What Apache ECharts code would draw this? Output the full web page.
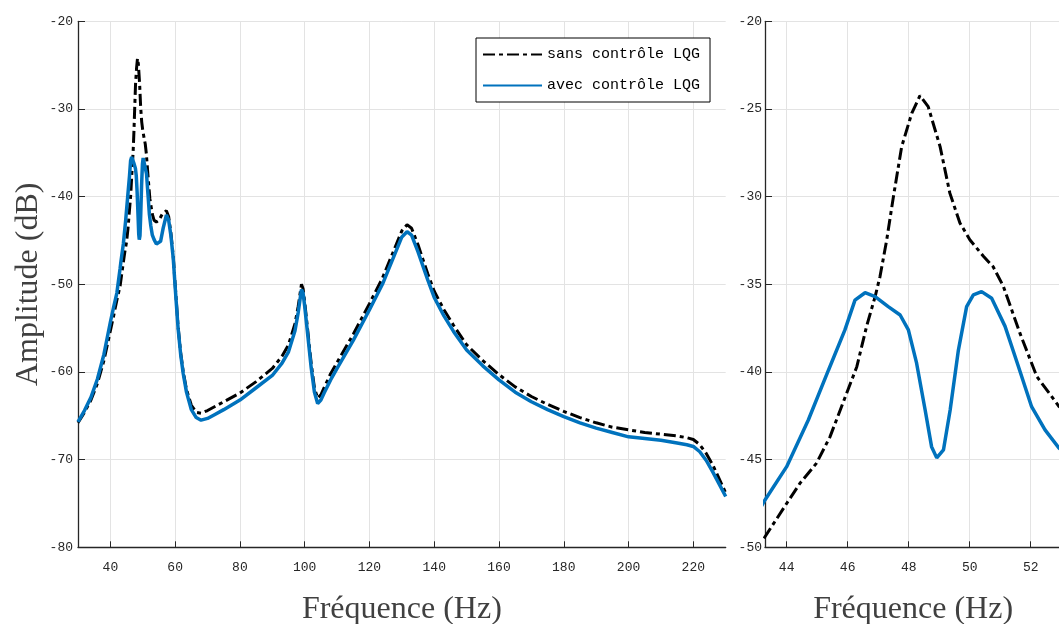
<!DOCTYPE html>
<html><head><meta charset="utf-8">
<script src="https://cdn.jsdelivr.net/npm/echarts@6/dist/echarts.min.js"></script>
<style>html,body{margin:0;padding:0;background:#fff}#c{width:1059px;height:624px}</style>
</head><body><div id="c"></div>
<script>
// ---- data ----
const freqSans = [30,32,34,36,38,40,41,42,43,43.29,44,44.44,44.98,45.42,45.97,46.3,46.62,46.9,47.06,47.28,47.5,47.77,48.1,48.37,48.64,49.03,49.35,49.68,50.01,50.45,50.77,51.1,51.65,52.2,52.93,53.5,54.2,55,56,57.3,58,58.7,59.4,60,60.9,61.7,62.5,63.5,65,66.5,68,70,72,75,80,85,90,93,95,97,98,99,99.5,100,101,102,103,104,105,106,108,110,115,120,124,127,130,131.6,133,135,138,140,143,146,150,155,160,165,170,175,180,185,190,195,200,205,210,215,218,220,222,224,226,228,230];
const sansLQG = [-65.8,-64.6,-63.2,-61.3,-58.7,-55.3,-53.6,-51.8,-50.2,-49.4,-47.5,-46.34,-45.2,-43.7,-41.2,-39.7,-37.4,-35.7,-34.56,-32.47,-30.0,-27.15,-25.25,-24.24,-24.87,-27.15,-29.8,-31.5,-32.47,-33.4,-34.0,-35.1,-37.8,-40.26,-41.97,-42.7,-42.9,-42.7,-42.0,-41.6,-42.3,-44.2,-46.8,-50,-54.8,-57.8,-60,-62,-63.8,-64.6,-64.7,-64.4,-64.0,-63.4,-62.4,-61.1,-59.6,-58.2,-56.9,-54.5,-52.5,-50.0,-50.5,-52,-55.5,-59,-61.8,-63.0,-62.6,-61.8,-60.2,-58.9,-55.7,-52.2,-49.3,-46.6,-43.9,-43.2,-43.6,-45.5,-48.8,-50.8,-52.9,-54.7,-56.9,-58.7,-60.3,-61.7,-62.8,-63.7,-64.5,-65.2,-65.8,-66.3,-66.6,-66.9,-67.1,-67.3,-67.5,-67.7,-68.3,-69.3,-70.6,-72.2,-73.8];
const freqAvec = [30,32,34,36,38,40,41,42,43,43.29,44,44.71,45.37,45.91,46.24,46.57,46.9,47.33,47.72,47.99,48.26,48.54,48.75,48.92,49.14,49.36,49.63,49.9,50.12,50.39,50.72,51.16,51.6,52.03,52.47,52.93,53.5,54.2,54.8,55.5,56.3,57.3,58,58.7,59.4,60,60.9,61.7,62.5,63.5,65,66.5,68,70,72,75,80,85,90,93,95,97,98,99,99.5,100,101,102,103,104,105,106,108,110,115,120,124,127,130,131.6,133,135,138,140,143,146,150,155,160,165,170,175,180,185,190,195,200,205,210,215,218,220,222,224,226,228,230];
const avecLQG = [-65.7,-64.4,-62.9,-60.8,-58.0,-54.3,-52.6,-51.0,-48.2,-47.3,-45.4,-42.74,-39.9,-37.6,-35.9,-35.48,-35.7,-36.27,-36.75,-37.6,-39.5,-42.17,-44.26,-44.9,-44.45,-42.17,-38.75,-36.27,-35.6,-35.42,-35.8,-37.4,-39.7,-41.98,-43.3,-44.35,-44.9,-45.4,-45.5,-45.1,-43.6,-42.1,-42.7,-44.5,-47,-50.3,-55,-58,-60.2,-62.3,-64.3,-65.2,-65.5,-65.3,-64.9,-64.3,-63.2,-61.8,-60.4,-59,-57.7,-55.3,-53.2,-50.6,-51,-52.5,-56,-59.5,-62.3,-63.6,-63.2,-62.4,-60.9,-59.6,-56.4,-52.9,-50,-47.3,-44.6,-44.0,-44.4,-46.3,-49.5,-51.5,-53.6,-55.4,-57.5,-59.3,-60.9,-62.3,-63.4,-64.3,-65.1,-65.8,-66.4,-66.9,-67.4,-67.6,-67.8,-68.1,-68.3,-68.5,-69.1,-70.1,-71.4,-72.8,-74.2];
const xTicksMain = [40,60,80,100,120,140,160,180,200,220];
const xTicksZoom = [44,46,48,50,52];
const seriesNames = ['sans contrôle LQG','avec contrôle LQG'];
const xTitle = 'Fréquence (Hz)';
const yTitle = 'Amplitude (dB)';

const pairs = (xs, ys) => xs.map((x, i) => [x, ys[i]]);
const axisColor = '#262626';
const gridColor = '#e3e3e3';
const labelFont = {fontFamily: 'Liberation Mono', fontSize: 13, color: axisColor};
const titleFont = {fontFamily: 'Liberation Serif', fontSize: 32, color: '#404040'};

function xAxis(idx, min, max, ticks) {
  return {
    type: 'value', gridIndex: idx, min: min, max: max,
    name: xTitle, nameLocation: 'middle', nameGap: 46, nameTextStyle: titleFont,
    axisLine: {show: true, onZero: false, lineStyle: {color: axisColor, width: 1.3}},
    axisTick: {show: true, inside: true, length: 6, customValues: ticks, lineStyle: {color: axisColor}},
    axisLabel: Object.assign({customValues: ticks, margin: 14}, labelFont),
    splitLine: {show: true, lineStyle: {color: gridColor, width: 1}}
  };
}
function yAxis(idx, min, max, interval, margin) {
  return {
    type: 'value', gridIndex: idx, min: min, max: max, interval: interval,
    name: idx === 0 ? yTitle : '', nameLocation: 'middle', nameGap: 33, nameMoveOverlap: false,
    nameTextStyle: titleFont,
    axisLine: {show: true, onZero: false, lineStyle: {color: axisColor, width: 1.3}},
    axisTick: {show: true, inside: true, length: 7, lineStyle: {color: axisColor}},
    axisLabel: Object.assign({margin: margin}, labelFont),
    splitLine: {show: true, lineStyle: {color: gridColor, width: 1}}
  };
}
const sansStyle = {color: '#000000', width: 3, type: [12, 4, 4, 4]};
const avecStyle = {color: '#0072BD', width: 3.5, type: 'solid'};
function mk(name, xs, ys, style, gi) {
  return {
    name: name, type: 'line', xAxisIndex: gi, yAxisIndex: gi,
    data: pairs(xs, ys), showSymbol: false, symbol: 'none', smooth: false,
    clip: true, silent: true, animation: false,
    itemStyle: {color: style.color}, lineStyle: style
  };
}

const chart = echarts.init(document.getElementById('c'), null, {renderer: 'canvas'});
chart.setOption({
  animation: false,
  backgroundColor: '#ffffff',
  grid: [
    {left: 78, top: 21.3, width: 647.7, height: 526, containLabel: false, outerBoundsMode: 'none'},
    {left: 765, top: 21.3, width: 296.2, height: 526, containLabel: false, outerBoundsMode: 'none'}
  ],
  xAxis: [xAxis(0, 30, 230, xTicksMain), xAxis(1, 43.29, 53, xTicksZoom)],
  yAxis: [yAxis(0, -80, -20, 10, 5), yAxis(1, -50, -20, 5, 3)],
  legend: {
    data: seriesNames, orient: 'vertical', left: 476, top: 38,
    itemWidth: 59, itemHeight: 14, itemGap: 16,
    padding: [9, 10, 9, 6],
    itemStyle: {opacity: 0, borderWidth: 0},
    backgroundColor: '#ffffff', borderColor: '#000000', borderWidth: 1, borderRadius: 0,
    textStyle: {fontFamily: 'Liberation Mono', fontSize: 15, color: '#000000'},
    selectedMode: false
  },
  series: [
    mk(seriesNames[0], freqSans, sansLQG, sansStyle, 0),
    mk(seriesNames[1], freqAvec, avecLQG, avecStyle, 0),
    mk(seriesNames[0], freqSans, sansLQG, sansStyle, 1),
    mk(seriesNames[1], freqAvec, avecLQG, avecStyle, 1)
  ]
});
</script></body></html>
